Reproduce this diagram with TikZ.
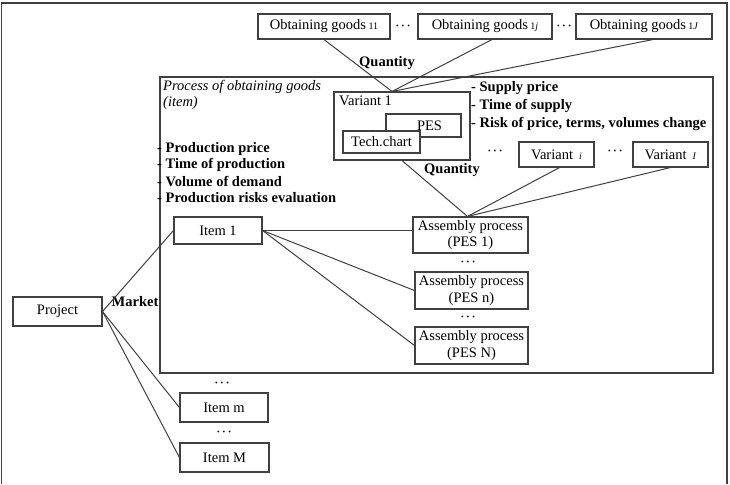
\documentclass[tikz,border=0pt]{standalone}
\usepackage{fontspec}
\setmainfont{Liberation Serif}
\usetikzlibrary{calc}
\definecolor{ln}{HTML}{404040}
\begin{document}
\begin{tikzpicture}[x=1pt,y=-1pt,
  box/.style={draw=ln,line width=1.1pt,fill=white,inner sep=0pt,font=\fontsize{14.5}{16.5}\selectfont,align=center},
  conn/.style={draw=ln,line width=1pt},
  lbl/.style={inner sep=0pt,font=\fontsize{14.5}{15}\selectfont\bfseries},
  dots/.style={inner sep=0pt,font=\fontsize{7.5}{8}\selectfont}]
\useasboundingbox (0,0) rectangle (730,484);
% outer frame
\draw[ln,line width=1.2pt] (1.5,484) -- (1.5,3) -- (727,3) -- (727,484);
% process box
\node[box,minimum width=553pt,minimum height=296pt,line width=1.3pt] (proc) at (436.5,225) {};
\node[inner sep=0pt,anchor=north west,align=left,font=\fontsize{14.5}{16}\selectfont\itshape] (proctitle) at (163,80) {Process of obtaining goods\\(item)};
% obtaining goods
\node[box,minimum width=132pt,minimum height=25pt] (og11) at (324,26.5) {Obtaining goods\,{\fontsize{10}{10}\selectfont 11}};
\node[box,minimum width=134pt,minimum height=25pt] (og1j) at (485,26.5) {Obtaining goods\,{\fontsize{10}{10}\selectfont 1\textit{j}}};
\node[box,minimum width=136pt,minimum height=25pt] (og1J) at (644,26.5) {Obtaining goods\,{\fontsize{10}{10}\selectfont 1\textit{J}}};
\node[dots] (d1) at (403,26.5) {•\hspace{3pt}•\hspace{3pt}•};
\node[dots] (d2) at (564,26.5) {•\hspace{3pt}•\hspace{3pt}•};
% variant 1
\node[box,minimum width=136pt,minimum height=68pt] (var1) at (402,126) {};
\node[inner sep=0pt,anchor=west,font=\fontsize{14.5}{15}\selectfont] (var1t) at (339,101) {Variant 1};
\node[box,minimum width=75pt,minimum height=23pt] (pes) at (423.5,125.5) {\hspace*{12pt}PES};
\node[box,minimum width=77pt,minimum height=22pt] (tech) at (381.5,142) {Tech.chart};
% variants
\node[box,minimum width=75pt,minimum height=25pt] (vari) at (556.5,154.5) {Variant \,{\fontsize{10}{10}\selectfont\textit{i}}};
\node[box,minimum width=75pt,minimum height=25pt] (varI) at (670.5,154.5) {Variant \,{\fontsize{10}{10}\selectfont\textit{I}}};
\node[dots] (d3) at (495,152) {•\hspace{3pt}•\hspace{3pt}•};
\node[dots] (d4) at (615,152) {•\hspace{3pt}•\hspace{3pt}•};
% supply labels
\node[lbl,anchor=west] (s1) at (471,88) {- Supply price};
\node[lbl,anchor=west] (s2) at (471,106) {- Time of supply};
\node[lbl,anchor=west] (s3) at (471,124) {- Risk of price, terms, volumes change};
% production labels
\node[lbl,anchor=west] (p1) at (157,149) {- Production price};
\node[lbl,anchor=west] (p2) at (157,165.3) {- Time of production};
\node[lbl,anchor=west] (p3) at (157,181.6) {- Volume of demand};
\node[lbl,anchor=west] (p4) at (157,198) {- Production risks evaluation};
% quantity labels
\node[lbl] (q1) at (387,63) {Quantity};
\node[lbl] (q2) at (452,170) {Quantity};
\node[lbl] (mk) at (135,302) {Market};
% items and assembly
\node[box,minimum width=88pt,minimum height=27pt] (item1) at (218,230.5) {Item 1};
\node[box,minimum width=115pt,minimum height=36pt] (asm1) at (470.5,235) {Assembly process\\(PES 1)};
\node[box,minimum width=113pt,minimum height=37pt] (asmn) at (471.5,290.5) {Assembly process\\(PES n)};
\node[box,minimum width=113pt,minimum height=37pt] (asmN) at (471.5,345.5) {Assembly process\\(PES N)};
\node[dots] (d5) at (468,263) {•\hspace{3pt}•\hspace{3pt}•};
\node[dots] (d6) at (468,318) {•\hspace{3pt}•\hspace{3pt}•};
\node[box,minimum width=89pt,minimum height=29pt] (project) at (57.5,311.5) {Project};
\node[box,minimum width=88pt,minimum height=29pt] (itemm) at (224,407.5) {Item m};
\node[box,minimum width=89pt,minimum height=29pt] (itemM) at (224.5,457.5) {Item M};
\node[dots] (d7) at (222,384) {•\hspace{3pt}•\hspace{3pt}•};
\node[dots] (d8) at (224,433) {•\hspace{3pt}•\hspace{3pt}•};
% connectors
\coordinate (jv) at ($(var1.north)+(-10,0)$);
\coordinate (ja) at ($(asm1.north)+(-3,0)$);
\draw[conn] (og11.south) -- (jv);
\draw[conn] ($(og1j.south)+(7,0)$) -- (jv);
\draw[conn] ($(og1J.south)+(9,0)$) -- (jv);
\draw[conn] (var1.south) -- (ja);
\draw[conn] ($(vari.south)+(3,0)$) -- (ja);
\draw[conn] (varI.south) -- (ja);
\draw[conn] (item1.east) -- (item1.east -| asm1.west);
\draw[conn] (item1.east) -- (asmn.west);
\draw[conn] (item1.east) -- (asmN.west);
\draw[conn] (project.east) -- (item1.west);
\draw[conn] (project.east) -- (itemm.west);
\draw[conn] (project.east) -- (itemM.west);
\end{tikzpicture}
\end{document}
